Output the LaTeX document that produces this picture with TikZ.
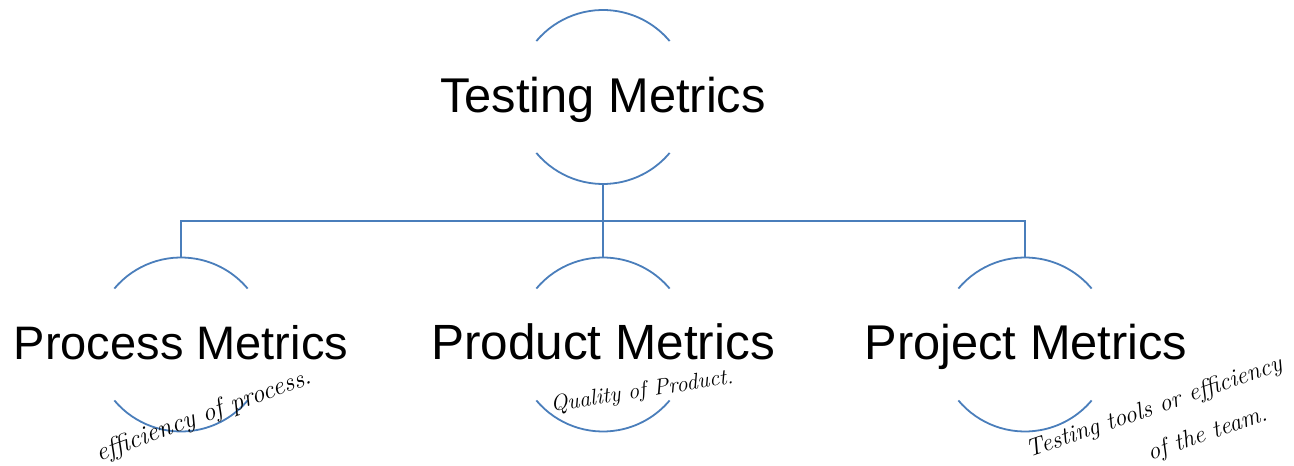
\documentclass[tikz,border=0pt]{standalone}
\usepackage{fontspec}
\setsansfont{Liberation Sans}
\begin{document}
\begin{tikzpicture}[x=1pt,y=1pt,
  ring/.style={circle, minimum size=174pt, inner sep=0pt, outer sep=0pt, draw=none},
  arcline/.style={draw=linkblue, line width=1.8pt},
  wire/.style={draw=linkblue, line width=1.8pt},
  title/.style={font=\sffamily\fontsize{#1}{56}\selectfont, anchor=base, inner sep=0pt},
  title/.default=48.8,
  note/.style={font=\itshape\fontsize{#1}{30}\selectfont, inner sep=0pt},
  note/.default=26]
\definecolor{linkblue}{HTML}{4A7EBB}
\useasboundingbox (0,0) rectangle (1294,466);

% circle placeholders for each metric
\node[ring] (t) at (603,369) {};
\node[ring] (p) at (181,121.5) {};
\node[ring] (d) at (603,121.5) {};
\node[ring] (j) at (1025,121.5) {};

% upper and lower arcs of every circle
\foreach \n in {t,p,d,j}{
  \draw[arcline] (\n.140) arc[start angle=140, end angle=40, radius=87pt];
  \draw[arcline] (\n.220) arc[start angle=220, end angle=320, radius=87pt];
}

% captions
\node[title] (tt) at (603,353.5) {Testing Metrics};
\node[title=47] (pt) at (181,106) {Process Metrics};
\node[title=49.5] (dt) at (603,106) {Product Metrics};
\node[title] (jt) at (1026,106) {Project Metrics};

% tree connectors
\coordinate (bus) at (603,245);
\draw[wire] (t.south) -- (bus);
\draw[wire] (bus) -- (d.north);
\draw[wire] (p.north) |- (bus);
\draw[wire] (bus) -| (j.north);

% handwritten notes
\node[note, rotate=20] (pn) at (204,50) {efficiency of process.};
\node[note=22.5, rotate=9] (dn) at (642,74) {Quality of Product.};
\node[note=24.5, rotate=19, align=right] (jn) at (1161,38)
  {Testing tools or efficiency\\[12pt] of the team.\hspace*{30pt}};
\end{tikzpicture}
\end{document}
